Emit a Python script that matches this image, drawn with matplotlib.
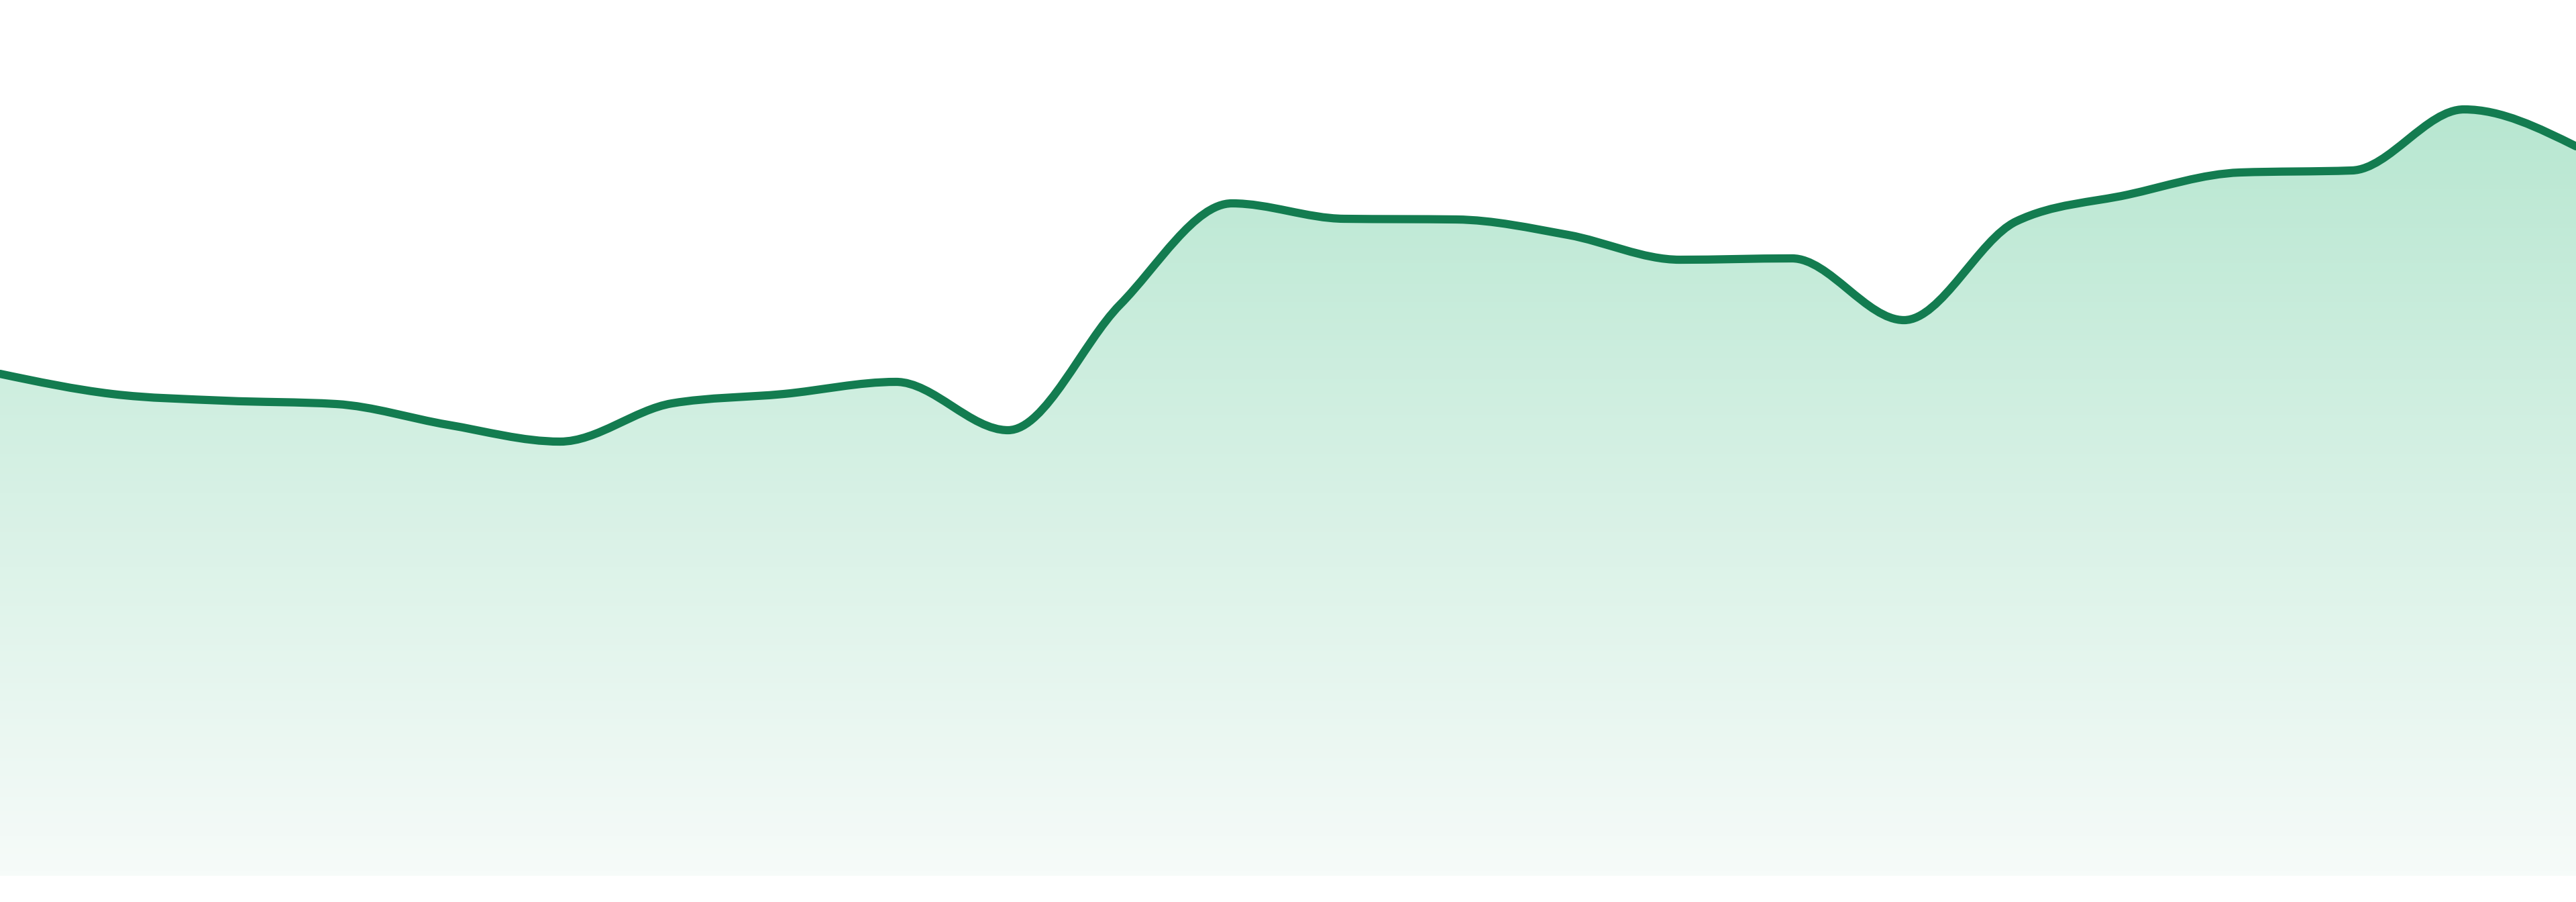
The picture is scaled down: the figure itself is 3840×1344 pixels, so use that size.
import numpy as np
import matplotlib
matplotlib.use("Agg")
import matplotlib.pyplot as plt
from matplotlib.path import Path
from matplotlib.patches import PathPatch
from matplotlib.colors import LinearSegmentedColormap

# values, one per evenly spaced step
steps = list(range(24))
values = [74.8, 71.8, 70.8, 70.3, 67.2, 64.7, 70.4, 71.8, 73.6, 66.4, 85.1, 100.2,
          97.9, 97.8, 95.5, 91.8, 92.0, 82.8, 97.5, 101.5, 104.8, 105.1, 114.2, 108.7]

y_lims = (-3.9, 130.5)
line_color = "#137c50"
fill_top = "#b8e7d1"
fill_bottom = "#f6fbf9"


def monotone_tangents(x, y):
    # same rule as d3.curveMonotoneX
    n = len(x)
    t = np.zeros(n)
    for i in range(1, n - 1):
        h0 = x[i] - x[i - 1]
        h1 = x[i + 1] - x[i]
        s0 = (y[i] - y[i - 1]) / h0
        s1 = (y[i + 1] - y[i]) / h1
        p = (s0 * h1 + s1 * h0) / (h0 + h1)
        t[i] = (np.sign(s0) + np.sign(s1)) * min(abs(s0), abs(s1), 0.5 * abs(p))
    h = x[1] - x[0]
    t[0] = (3 * (y[1] - y[0]) / h - t[1]) / 2
    h = x[-1] - x[-2]
    t[-1] = (3 * (y[-1] - y[-2]) / h - t[-2]) / 2
    return t


def smooth_path(x, y):
    t = monotone_tangents(x, y)
    verts = [(x[0], y[0])]
    codes = [Path.MOVETO]
    for i in range(len(x) - 1):
        dx = (x[i + 1] - x[i]) / 3
        verts += [(x[i] + dx, y[i] + dx * t[i]),
                  (x[i + 1] - dx, y[i + 1] - dx * t[i + 1]),
                  (x[i + 1], y[i + 1])]
        codes += [Path.CURVE4] * 3
    return verts, codes


x = np.array(steps, dtype=float)
y = np.array(values, dtype=float)
verts, codes = smooth_path(x, y)

fig = plt.figure(figsize=(19.2, 6.72), dpi=200)
ax = fig.add_axes([0, 0, 1, 1])
ax.axis("off")

# area under the curve, filled with a vertical gradient
area_verts = verts + [(x[-1], 0), (x[0], 0), (x[0], y[0])]
area_codes = codes + [Path.LINETO, Path.LINETO, Path.CLOSEPOLY]
area = PathPatch(Path(area_verts, area_codes), facecolor="none", edgecolor="none")
ax.add_patch(area)

cmap = LinearSegmentedColormap.from_list("fade", [fill_bottom, fill_top])
grad = np.linspace(0, 1, 256).reshape(-1, 1)
img = ax.imshow(grad, cmap=cmap, aspect="auto", origin="lower",
                extent=[x[0], x[-1], 0, y.max()], interpolation="bicubic")
img.set_clip_path(area)

line = PathPatch(Path(verts, codes), facecolor="none", edgecolor=line_color,
                 linewidth=4.4, capstyle="round", joinstyle="round")
ax.add_patch(line)

ax.set_xlim(x[0], x[-1])
ax.set_ylim(*y_lims)

fig.savefig("out.png", dpi=200, facecolor="white")
